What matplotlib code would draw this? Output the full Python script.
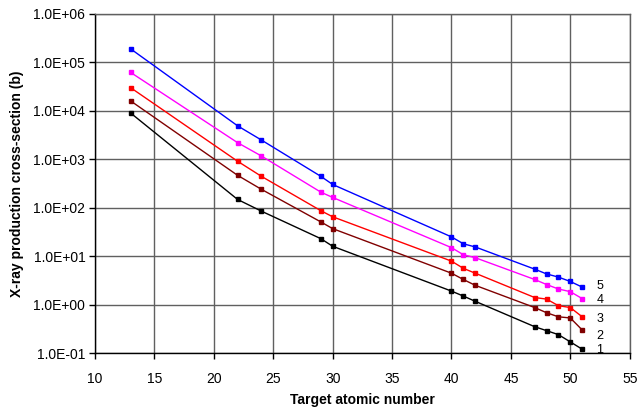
import matplotlib
matplotlib.use("Agg")
import matplotlib.pyplot as plt
from matplotlib.ticker import FixedLocator, FuncFormatter

plt.rcParams['font.family'] = ['Liberation Sans', 'DejaVu Sans']

z = [13, 22, 24, 29, 30, 40, 41, 42, 47, 48, 49, 50, 51]

s5 = [1.9e5, 4.9e3, 2.5e3, 445, 302, 25, 18, 15.5, 5.4, 4.3, 3.7, 3.0, 2.3]
s4 = [6.2e4, 2.2e3, 1.17e3, 210, 163, 15, 10.7, 9.3, 3.3, 2.6, 2.1, 1.85, 1.33]
s3 = [3.0e4, 910, 445, 87, 65, 7.9, 5.6, 4.45, 1.4, 1.3, 0.95, 0.87, 0.56]
s2 = [1.6e4, 466, 240, 51, 37, 4.45, 3.3, 2.5, 0.87, 0.68, 0.56, 0.53, 0.30]
s1 = [9.0e3, 148, 85, 23, 16, 1.9, 1.5, 1.17, 0.35, 0.29, 0.24, 0.17, 0.12]

series = [s1, s2, s3, s4, s5]
names = ['1', '2', '3', '4', '5']
colors = ['#000000', '#800000', '#FF0000', '#FF00FF', '#0000FF']
label_y = [0.116, 0.222, 0.50, 1.23, 2.4]

yticks = [1e-1, 1e0, 1e1, 1e2, 1e3, 1e4, 1e5, 1e6]
xticks = [10, 15, 20, 25, 30, 35, 40, 45, 50, 55]

fig = plt.figure(figsize=(6.38, 4.11), dpi=100)
ax = fig.add_axes([0.149, 0.141, 0.838, 0.825])

for s, c, n, ly in zip(series, colors, names, label_y):
    ax.plot(z, s, color=c, lw=1.0, marker='s', markersize=3.2,
            markerfacecolor=c, markeredgecolor=c)
    ax.text(52.2, ly, n, fontsize=9, va='center', ha='left', color='black')

ax.set_yscale('log')
ax.set_xlim(10, 55)
ax.set_ylim(1e-1, 1e6)
ax.yaxis.set_major_locator(FixedLocator(yticks))
ax.yaxis.set_minor_locator(FixedLocator([]))
ax.yaxis.set_major_formatter(FuncFormatter(lambda v, p: '%.1E' % v))
ax.xaxis.set_major_locator(FixedLocator(xticks))

ax.grid(True, which='major', color='#606060', lw=1.0)
ax.set_axisbelow(True)
for sp in ax.spines.values():
    sp.set_color('#606060')
    sp.set_linewidth(1.0)
ax.spines['left'].set_color('black')
ax.spines['bottom'].set_color('black')

ax.tick_params(axis='both', direction='out', length=4, width=1, labelsize=10, color='black')
ax.tick_params(axis='x', pad=10)
ax.tick_params(axis='y', pad=3)

ax.set_xlabel('Target atomic number', fontsize=10, fontweight='bold', labelpad=5)
ax.set_ylabel('X-ray production cross-section (b)', fontsize=10, fontweight='bold', labelpad=7)

fig.savefig('out.png', dpi=100)
